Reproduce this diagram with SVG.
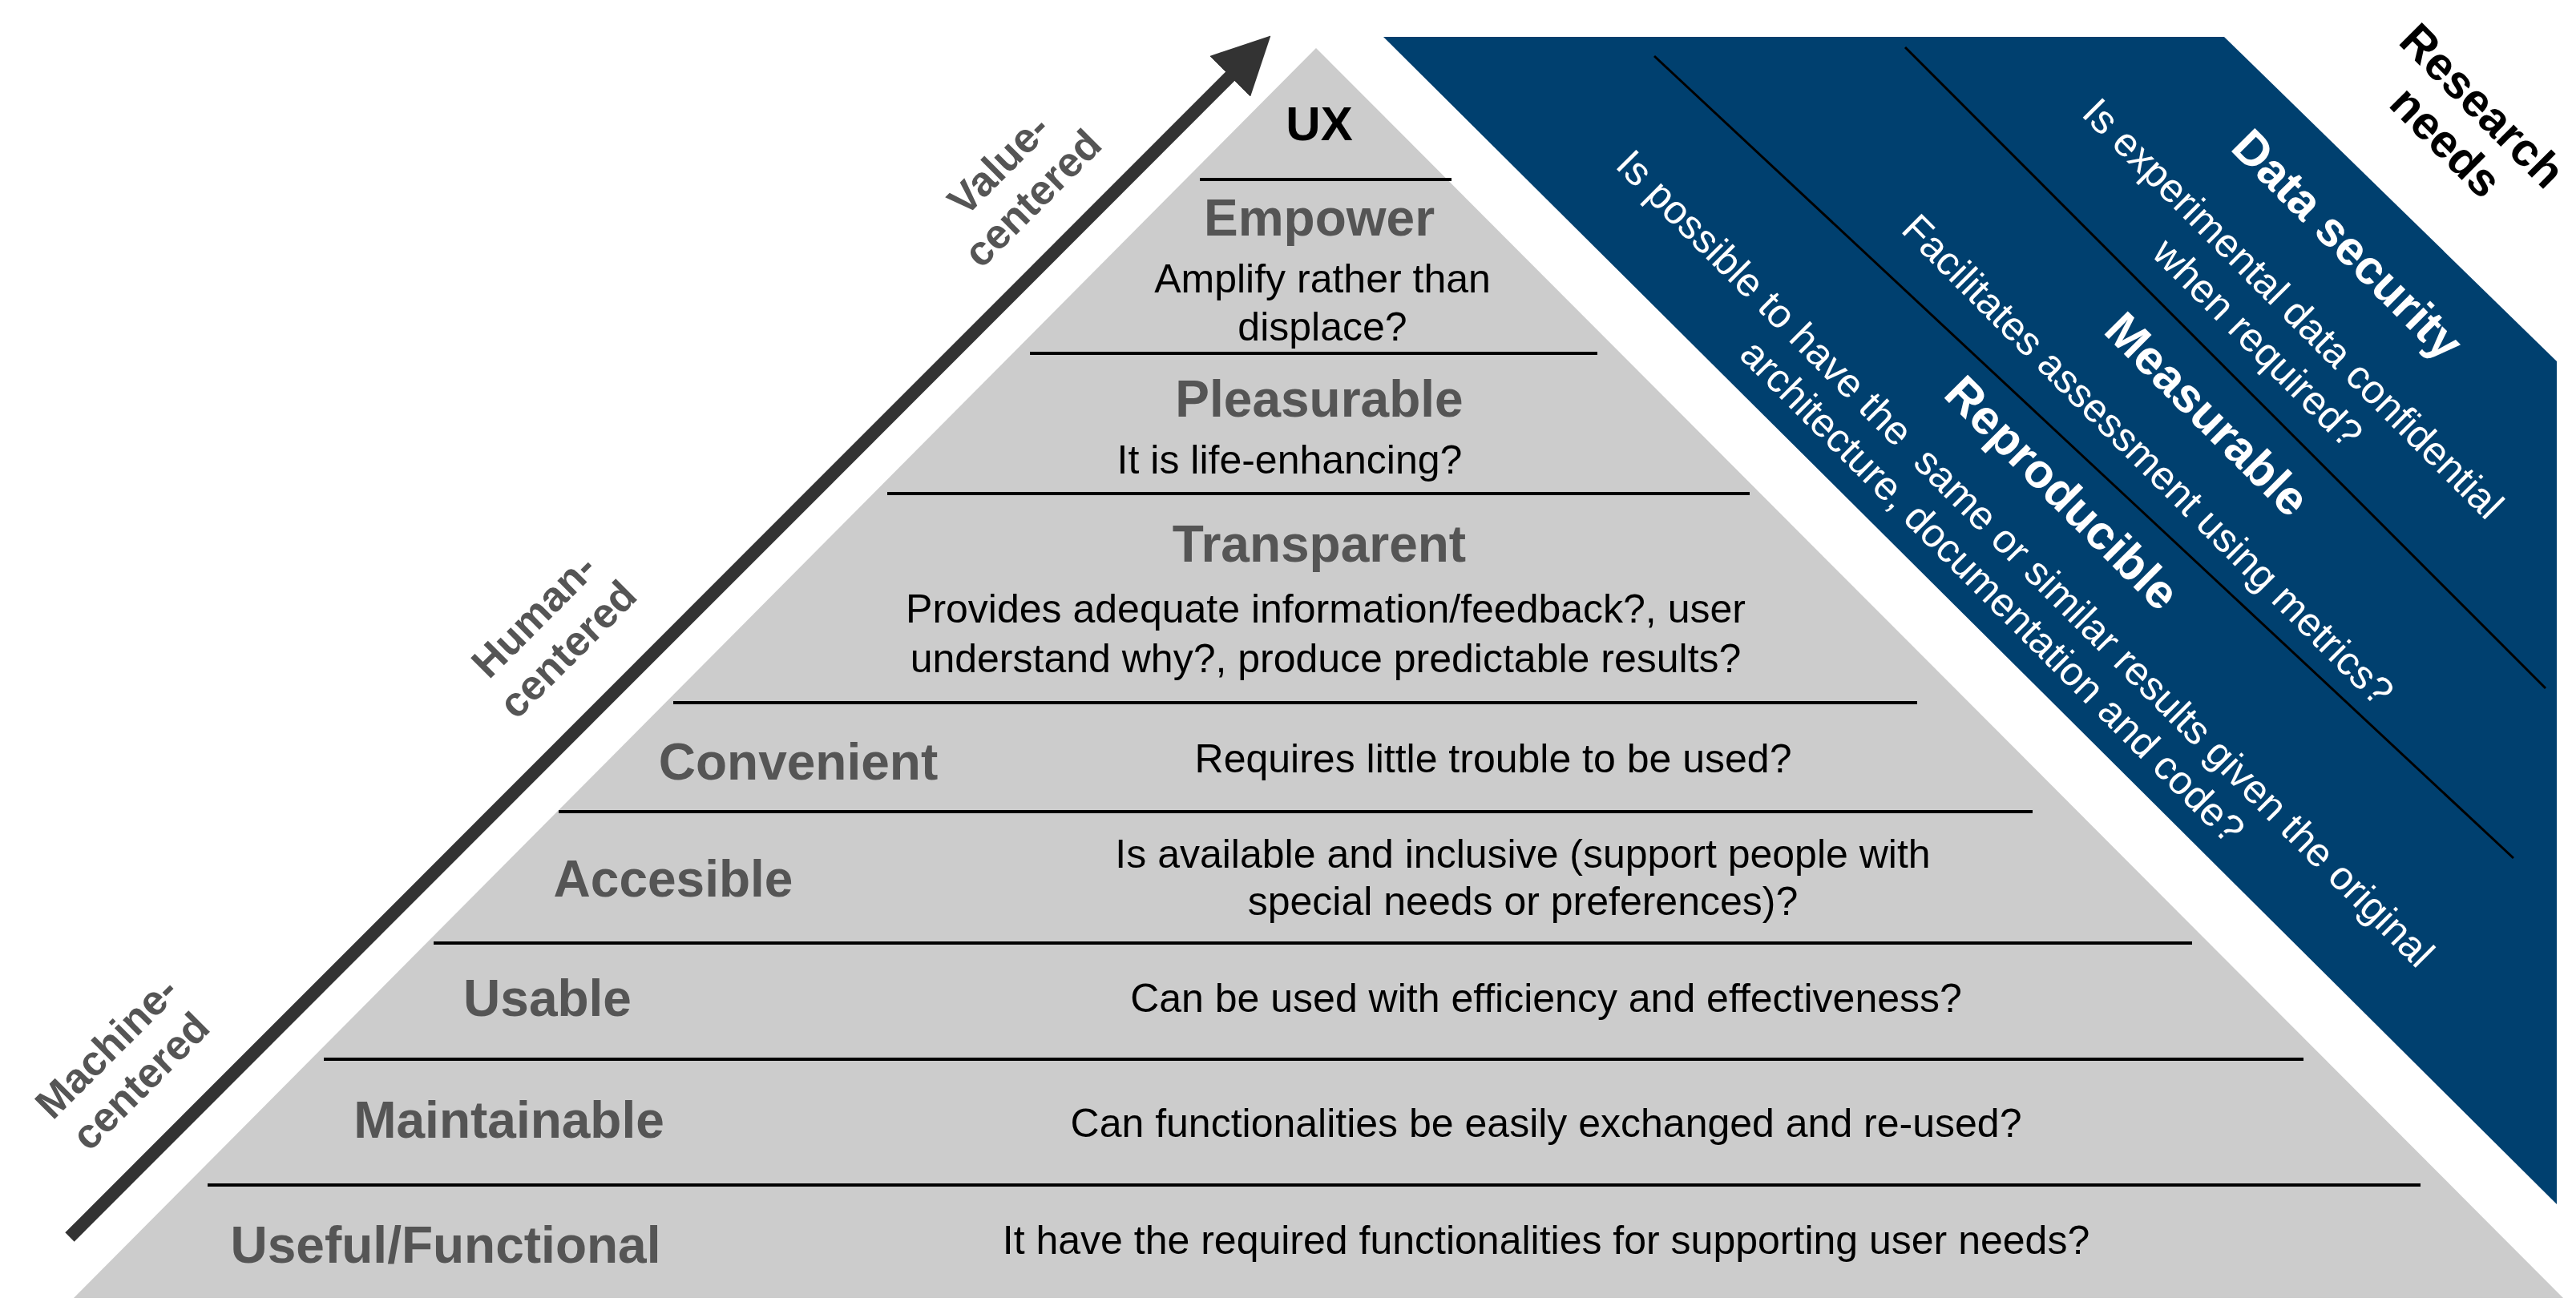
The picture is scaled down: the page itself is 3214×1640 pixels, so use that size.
<svg xmlns="http://www.w3.org/2000/svg" width="3214" height="1640" viewBox="0 0 3214 1640">
<style>
text{font-family:"Liberation Sans",Arial,sans-serif;text-anchor:middle;dominant-baseline:central}
.t{font-size:64px;font-weight:bold;fill:#555}
.d{font-size:50px;fill:#000}
.ax{font-size:52px;font-weight:bold;fill:#555}
.w{font-size:50px;fill:#fff}
.wb{font-size:60px;font-weight:bold;fill:#fff}
.sep{stroke:#000;stroke-width:4}
</style>
<defs><marker id="ah" viewBox="0 0 10 10" refX="5" refY="5" markerWidth="4.5" markerHeight="4.5" orient="auto" markerUnits="strokeWidth"><path d="M0,0 L10,5 L0,10 Z" fill="#333"/></marker></defs>
<g id="pyramid">
<polygon points="1642,60 3198,1620 92,1620" fill="#cccccc"/>
<line class="sep" x1="1497" y1="224" x2="1811" y2="224"/>
<line class="sep" x1="1285" y1="441" x2="1993" y2="441"/>
<line class="sep" x1="1107" y1="616" x2="2183" y2="616"/>
<line class="sep" x1="840" y1="877" x2="2392" y2="877"/>
<line class="sep" x1="697" y1="1013" x2="2536" y2="1013"/>
<line class="sep" x1="541" y1="1177" x2="2735" y2="1177"/>
<line class="sep" x1="404" y1="1322" x2="2874" y2="1322"/>
<line class="sep" x1="259" y1="1479" x2="3020" y2="1479"/>
</g>
<g id="ux"><text x="1646" y="154" style="font-size:60px;font-weight:bold">UX</text></g>
<g id="empower"><text class="t" x="1646" y="272">Empower</text><text class="d" x="1650" y="348">Amplify rather than</text><text class="d" x="1650" y="408">displace?</text></g>
<g id="pleasurable"><text class="t" x="1646" y="498">Pleasurable</text><text class="d" x="1609" y="574">It is life-enhancing?</text></g>
<g id="transparent"><text class="t" x="1646" y="679">Transparent</text><text class="d" x="1654" y="760">Provides adequate information/feedback?, user</text><text class="d" x="1654" y="822">understand why?, produce predictable results?</text></g>
<g id="convenient"><text class="t" x="996" y="951">Convenient</text><text class="d" x="1863" y="947">Requires little trouble to be used?</text></g>
<g id="accesible"><text class="t" x="840" y="1097">Accesible</text><text class="d" x="1900" y="1066">Is available and inclusive (support people with</text><text class="d" x="1900" y="1125">special needs or preferences)?</text></g>
<g id="usable"><text class="t" x="683" y="1246">Usable</text><text class="d" x="1929" y="1246">Can be used with efficiency and effectiveness?</text></g>
<g id="maintainable"><text class="t" x="635" y="1398">Maintainable</text><text class="d" x="1929" y="1402">Can functionalities be easily exchanged and re-used?</text></g>
<g id="useful"><text class="t" x="556" y="1554">Useful/Functional</text><text class="d" x="1929" y="1548">It have the required functionalities for supporting user needs?</text></g>
<g id="connectors"><line x1="87" y1="1544" x2="1560" y2="70" stroke="#333" stroke-width="16" marker-end="url(#ah)"/></g>
<g id="axis-labels">
<g transform="translate(154,1328) rotate(-45)"><text class="ax" x="0" y="-30">Machine-</text><text class="ax" x="0" y="30">centered</text></g>
<g transform="translate(687,789) rotate(-45)"><text class="ax" x="0" y="-30">Human-</text><text class="ax" x="0" y="30">centered</text></g>
<g transform="translate(1267,226) rotate(-45)"><text class="ax" x="0" y="-30">Value-</text><text class="ax" x="0" y="30">centered</text></g>
</g>
<g id="research">
<polygon points="1726,46 2775,46 3190,451 3190,1503" fill="#00406f"/>
<line x1="2064" y1="70" x2="3136" y2="1071" stroke="#000" stroke-width="3"/>
<line x1="2377" y1="59" x2="3176" y2="859" stroke="#000" stroke-width="3"/>
<g transform="translate(3075,154) rotate(45)"><text x="0" y="-32" style="font-size:58px;font-weight:bold">Research</text><text x="0" y="32" style="font-size:58px;font-weight:bold">needs</text></g>
<text class="wb" transform="translate(2929,305) rotate(45)">Data security</text>
<text class="w" transform="translate(2861,385) rotate(45)">Is experimental data confidential</text>
<text class="w" transform="translate(2817,428) rotate(45)">when required?</text>
<text class="wb" transform="translate(2754,517) rotate(45)">Measurable</text>
<text class="w" transform="translate(2680,574) rotate(45)">Facilitates assessment using metrics?</text>
<text class="wb" transform="translate(2573,615) rotate(45)">Reproducible</text>
<text class="w" transform="translate(2527,697) rotate(45)" xml:space="preserve">Is possible to have the  same or similar results given the original</text>
<text class="w" transform="translate(2486,738) rotate(45)">architecture, documentation and code?</text>
</g>
</svg>
